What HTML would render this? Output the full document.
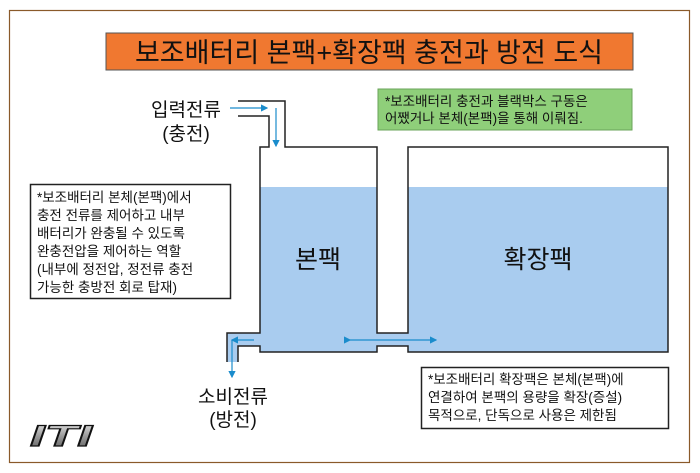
<!DOCTYPE html>
<html><head><meta charset="utf-8"><style>
body{margin:0;width:700px;height:473px;background:#fff;overflow:hidden}
svg{display:block}
text{font-family:"Liberation Sans","Noto Sans CJK KR",sans-serif;fill:#111}
</style></head><body>
<svg width="700" height="473" viewBox="0 0 700 473">
<defs><marker id="a" markerWidth="6" markerHeight="6" refX="5" refY="3" orient="auto"><path d="M0,0L6,3L0,6z" fill="#1a8ccc"/></marker>
<linearGradient id="g" x1="0" y1="0" x2="0" y2="1"><stop offset="0" stop-color="#eee"/><stop offset="0.5" stop-color="#999"/><stop offset="1" stop-color="#555"/></linearGradient></defs>
<rect x="9.5" y="10.5" width="680" height="452" fill="#fff" stroke="#8a5a2a" stroke-width="1.2"/>
<rect x="106" y="33" width="527" height="37" fill="#f07830" stroke="#555" stroke-width="1"/>
<text x="369" y="62" font-size="27" text-anchor="middle">보조배터리 본팩+확장팩 충전과 방전 도식</text>
<rect x="378" y="89" width="254" height="41" fill="#8fcf7a" stroke="#6aa35a"/>
<text x="385" y="106" font-size="13.5">*보조배터리 충전과 블랙박스 구동은</text>
<text x="385" y="123" font-size="13.5">어쨌거나 본체(본팩)을 통해 이뤄짐.</text>
<text x="186" y="116" font-size="19" text-anchor="middle">입력전류</text>
<text x="186" y="140" font-size="19" text-anchor="middle">(충전)</text>
<path d="M260,187H377V333H408V187H668V352H408V346H377V352H260V346H238V362H227V333H260Z" fill="#a9ccef"/>
<g fill="none" stroke="#222" stroke-width="1.5">
<path d="M238,101H285V147H377V333H408V147H668V352H408V346H377V352H260V346H238V362"/>
<path d="M238,116H269V147H260V333H227V362"/>
</g>
<g stroke="#1a8ccc" stroke-width="1.2" fill="none">
<line x1="230" y1="108" x2="267" y2="108" marker-end="url(#a)"/>
<line x1="276" y1="108" x2="276" y2="146" marker-end="url(#a)"/>
<line x1="254" y1="340" x2="232" y2="340" marker-end="url(#a)"/>
<line x1="232" y1="340" x2="232" y2="377" marker-end="url(#a)"/>
<line x1="350" y1="340" x2="436" y2="340" marker-end="url(#a)" marker-start="url(#a)"/>
</g>
<text x="318" y="268" font-size="25" text-anchor="middle">본팩</text>
<text x="538" y="268" font-size="25" text-anchor="middle">확장팩</text>
<rect x="30.5" y="184.5" width="200" height="114" fill="#fff" stroke="#222" stroke-width="1.5"/>
<g font-size="13.5"><text x="37" y="202">*보조배터리 본체(본팩)에서</text>
<text x="37" y="220">충전 전류를 제어하고 내부</text>
<text x="37" y="238">배터리가 완충될 수 있도록</text>
<text x="37" y="256">완충전압을 제어하는 역할</text>
<text x="37" y="274">(내부에 정전압, 정전류 충전</text>
<text x="37" y="292">가능한 충방전 회로 탑재)</text></g>
<text x="233" y="403" font-size="19" text-anchor="middle">소비전류</text>
<text x="233" y="426" font-size="19" text-anchor="middle">(방전)</text>
<rect x="421.5" y="367.5" width="247" height="61" fill="#fff" stroke="#222" stroke-width="1.5"/>
<g font-size="13.5"><text x="428" y="384">*보조배터리 확장팩은 본체(본팩)에</text>
<text x="428" y="402">연결하여 본팩의 용량을 확장(증설)</text>
<text x="428" y="420">목적으로, 단독으로 사용은 제한됨</text></g>
<text x="30" y="446" font-size="30" font-weight="bold" font-style="italic" textLength="62" lengthAdjust="spacingAndGlyphs" style="fill:url(#g);stroke:#111;stroke-width:1.2">ITI</text>
</svg>
</body></html>
